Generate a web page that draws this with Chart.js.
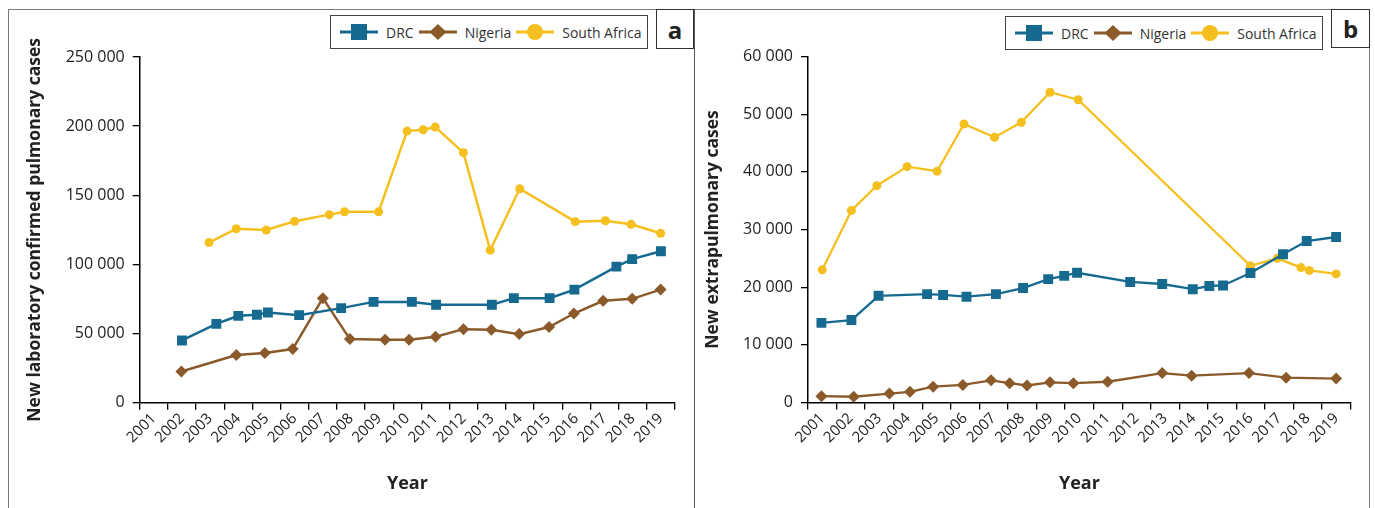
<!DOCTYPE html>
<html lang="en">
<head>
    <meta charset="UTF-8">
    <title>New TB cases: DRC, Nigeria, South Africa</title>
    <script src="https://cdn.jsdelivr.net/npm/chart.js"></script>
    <style>
        body {
            margin: 0;
            padding: 0;
            background-color: #fff;
            font-family: "Open Sans", Arial, sans-serif;
        }
        #page {
            position: relative;
            width: 1375px;
            height: 508px;
            overflow: hidden;
        }
        .frame {
            position: absolute;
            left: 8px;
            top: 9px;
            width: 1360px;
            height: 520px;
            border: 1.5px solid #7a7a7a;
        }
        .divider {
            position: absolute;
            left: 693.5px;
            top: 9px;
            width: 1.5px;
            height: 520px;
            background: #555;
        }
        canvas {
            position: absolute;
            top: 0;
        }
        .legend {
            position: absolute;
            height: 31px;
            width: 318px;
            border: 1.5px solid #444;
            background: #fff;
            display: flex;
            align-items: center;
            padding-left: 9px;
            box-sizing: border-box;
            height: 34px;
            font-size: 14px;
            color: #333;
            white-space: nowrap;
        }
        .legend .item {
            display: flex;
            align-items: center;
            flex-shrink: 0;
            margin-right: 5px;
        }
        .legend svg {
            margin-right: 8px;
            flex-shrink: 0;
        }
        .tag {
            position: absolute;
            top: 9px;
            border: 1.5px solid #333;
            background: #fff;
            font-weight: bold;
            font-size: 24px;
            color: #222;
            display: flex;
            align-items: center;
            justify-content: center;
        }
    </style>
</head>
<body>
<div id="page">
    <div class="frame"></div>
    <canvas id="chartA" width="694" height="508" style="left:0px"></canvas>
    <canvas id="chartB" width="681" height="508" style="left:694px"></canvas>
    <div class="divider"></div>
    <div class="legend" id="legendA" style="left:330px; top:15px;"></div>
    <div class="tag" style="left:656px; width:36px; height:38px;">a</div>
    <div class="legend" id="legendB" style="left:1005px; top:16px;"></div>
    <div class="tag" style="left:1331px; width:37px; height:37px;">b</div>
</div>

<script>
    // categories shown on the x axis
    const yearLabels = ['2001', '2002', '2003', '2004', '2005', '2006', '2007', '2008', '2009', '2010',
        '2011', '2012', '2013', '2014', '2015', '2016', '2017', '2018', '2019'];

    const seriesNames = ['DRC', 'Nigeria', 'South Africa'];
    const seriesColors = ['#176a8f', '#8b5a2b', '#f5c01f'];
    const seriesMarkers = ['rect', 'rectRot', 'circle'];

    // (a) new laboratory confirmed pulmonary cases - points sit at fractional year positions
    const pulmDrcX = [2002.0, 2003.22, 2004.0, 2004.66, 2005.05, 2006.16, 2007.65, 2008.8, 2010.16, 2011.02,
        2013.0, 2013.78, 2015.05, 2015.93, 2017.42, 2017.98, 2019.0];
    const pulmDrcY = [45000, 57000, 62800, 63600, 65200, 63300, 68400, 72900, 72900, 70800,
        70800, 75600, 75600, 81800, 98400, 103800, 109500];

    const pulmNigeriaX = [2001.98, 2003.93, 2004.94, 2005.93, 2007.0, 2007.96, 2009.21, 2010.06, 2011.0,
        2011.99, 2012.98, 2013.97, 2015.03, 2015.91, 2016.95, 2017.98, 2018.99];
    const pulmNigeriaY = [22600, 34500, 35900, 38800, 75600, 46000, 45500, 45500, 47700,
        53200, 52700, 49600, 54700, 64500, 73700, 75100, 81800];

    const pulmSouthAfricaX = [2002.96, 2003.93, 2004.99, 2006.0, 2007.23, 2007.77, 2008.98, 2009.99, 2010.56,
        2010.99, 2011.99, 2012.94, 2013.99, 2015.96, 2017.03, 2017.94, 2018.99];
    const pulmSouthAfricaY = [115800, 125800, 124900, 131200, 136000, 138100, 138100, 196400, 197400,
        199300, 180800, 110300, 154700, 130900, 131600, 129000, 122500];

    // (b) new extrapulmonary cases
    const extraDrcX = [2000.97, 2002.02, 2002.97, 2004.67, 2005.23, 2006.05, 2007.08, 2008.03, 2008.91, 2009.47,
        2009.92, 2011.78, 2012.9, 2013.97, 2014.55, 2015.03, 2015.99, 2017.13, 2017.96, 2018.99];
    const extraDrcY = [13800, 14300, 18500, 18800, 18650, 18350, 18800, 19850, 21400, 21950,
        22500, 20900, 20550, 19650, 20200, 20300, 22450, 25700, 28000, 28700];

    const extraNigeriaX = [2000.97, 2002.1, 2003.35, 2004.07, 2004.88, 2005.92, 2006.91, 2007.56, 2008.17,
        2008.97, 2009.79, 2010.99, 2012.9, 2013.93, 2015.94, 2017.24, 2018.99];
    const extraNigeriaY = [1100, 1000, 1550, 1850, 2750, 3050, 3850, 3350, 2950,
        3500, 3350, 3600, 5100, 4650, 5100, 4300, 4150];

    const extraSouthAfricaX = [2001.0, 2002.02, 2002.91, 2003.97, 2005.02, 2005.96, 2007.03, 2007.97, 2008.97,
        2009.96, 2015.99, 2016.93, 2017.76, 2018.05, 2018.99];
    const extraSouthAfricaY = [23000, 33300, 37600, 40900, 40100, 48300, 46000, 48600, 53800,
        52500, 23700, 25000, 23400, 22900, 22300];

    const tickFont = { family: '"Open Sans", Arial, sans-serif', size: 16 };
    const yearFont = { family: '"Open Sans", Arial, sans-serif', size: 15 };
    const titleFont = { family: '"Open Sans", Arial, sans-serif', size: 17.5, weight: 'bold' };
    const markerSizes = [7, 6, 4.5];

    function spaced(v) {
        return String(v).replace(/\B(?=(\d{3})+(?!\d))/g, ' ');
    }

    function buildLegend(id) {
        const box = document.getElementById(id);
        seriesNames.forEach((name, i) => {
            const c = seriesColors[i];
            let mark;
            if (seriesMarkers[i] === 'rect') {
                mark = `<rect x="11" y="0" width="16" height="16" fill="${c}"/>`;
            } else if (seriesMarkers[i] === 'rectRot') {
                mark = `<polygon points="19,0 27.5,8 19,16 10.5,8" fill="${c}"/>`;
            } else {
                mark = `<circle cx="19" cy="8" r="8" fill="${c}"/>`;
            }
            const item = document.createElement('div');
            item.className = 'item';
            item.innerHTML = `<svg width="38" height="16"><line x1="0" y1="8" x2="38" y2="8" stroke="${c}" stroke-width="3"/>${mark}</svg><span>${name}</span>`;
            box.appendChild(item);
        });
    }

    function buildChart(id, cfg) {
        const datasets = cfg.series.map((s, i) => ({
            label: seriesNames[i],
            data: s.x.map((x, k) => ({ x: x, y: s.y[k] })),
            xAxisID: 'xv',
            yAxisID: 'y',
            borderColor: seriesColors[i],
            backgroundColor: seriesColors[i],
            borderWidth: cfg.lineWidth,
            pointStyle: seriesMarkers[i],
            pointRadius: markerSizes[i],
            pointBorderWidth: 0,
            tension: 0
        }));

        return new Chart(document.getElementById(id), {
            type: 'line',
            data: { datasets: datasets },
            options: {
                responsive: false,
                animation: false,
                layout: { padding: cfg.padding },
                plugins: {
                    legend: { display: false },
                    tooltip: { enabled: false }
                },
                scales: {
                    xv: {
                        type: 'linear',
                        display: false,
                        min: 2000.5,
                        max: 2019.5
                    },
                    x: {
                        type: 'category',
                        labels: yearLabels,
                        position: 'bottom',
                        offset: true,
                        grid: { offset: true, drawOnChartArea: false, tickLength: 7, color: '#000', lineWidth: 1.3 },
                        border: { color: '#000', width: 1.5 },
                        ticks: { autoSkip: false, minRotation: 45, maxRotation: 45, font: yearFont, color: '#222', padding: 0 },
                        title: { display: true, text: 'Year', font: { family: titleFont.family, size: 18, weight: 'bold' }, color: '#222', padding: { top: 4, bottom: 4 } },
                        afterFit: s => { s.height = cfg.xHeight; }
                    },
                    y: {
                        type: 'linear',
                        position: 'left',
                        min: 0,
                        max: cfg.yMax,
                        ticks: { stepSize: cfg.yStep, callback: v => spaced(v), font: tickFont, color: '#222', padding: 8 },
                        grid: { drawOnChartArea: false, tickLength: 7, color: '#000', lineWidth: 1.3 },
                        border: { color: '#000', width: 1.5 },
                        title: { display: true, text: cfg.yTitle, font: titleFont, color: '#222', padding: { top: 4, bottom: 4 } },
                        afterFit: s => { s.width = cfg.yWidth; }
                    }
                }
            }
        });
    }

    buildChart('chartA', {
        series: [
            { x: pulmDrcX, y: pulmDrcY },
            { x: pulmNigeriaX, y: pulmNigeriaY },
            { x: pulmSouthAfricaX, y: pulmSouthAfricaY }
        ],
        yMax: 250000,
        yStep: 50000,
        yTitle: 'New laboratory confirmed pulmonary cases',
        padding: { left: 20.5, right: 19, top: 57, bottom: 9.7 },
        yWidth: 119.2,
        xHeight: 95.6,
        lineWidth: 2.5
    });

    buildChart('chartB', {
        series: [
            { x: extraDrcX, y: extraDrcY },
            { x: extraNigeriaX, y: extraNigeriaY },
            { x: extraSouthAfricaX, y: extraSouthAfricaY }
        ],
        yMax: 60000,
        yStep: 10000,
        yTitle: 'New extrapulmonary cases',
        padding: { left: 4.5, right: 24.3, top: 56.5, bottom: 9.7 },
        yWidth: 109.5,
        xHeight: 95.8,
        lineWidth: 2.3
    });

    buildLegend('legendA');
    buildLegend('legendB');
</script>
</body>
</html>
